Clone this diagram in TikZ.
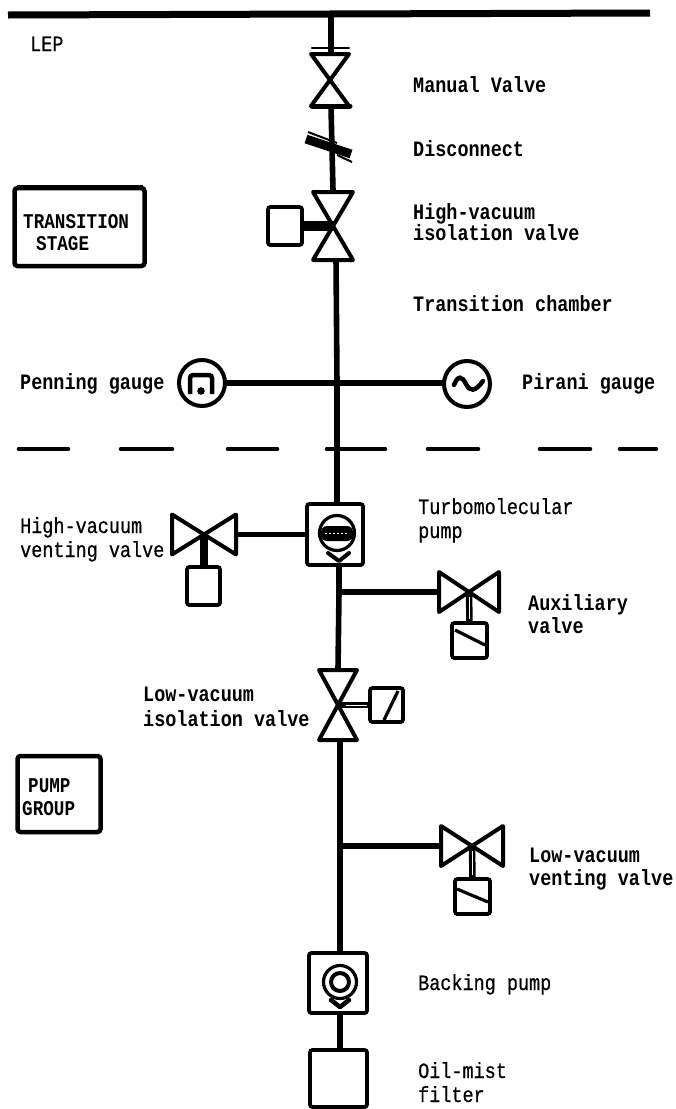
\documentclass[tikz,border=0pt]{standalone}
\usepackage{fontspec}
\newfontfamily\labreg[FakeStretch=0.84,FakeBold=0.5]{Liberation Mono}
\newfontfamily\labbold[FakeStretch=0.84]{Liberation Mono Bold}
\begin{document}
\begin{tikzpicture}[x=1pt,y=-1pt,
  pipe/.style={line width=5.6pt,black},
  valveline/.style={line width=4pt,line join=round,black,fill=white},
  stem/.style={line width=7pt,black},
  twinstem/.style={line width=6.5pt,black},
  boxnode/.style={draw,line width=3.8pt,rounded corners=2.5pt,inner sep=0pt,fill=white},
  gauge/.style={circle,draw,line width=4pt,inner sep=0pt,minimum size=46pt,fill=white},
  lab/.style={anchor=base west,inner sep=0pt,font=\labreg\fontsize{22}{24}\selectfont},
  labb/.style={lab,font=\labbold\fontsize{22}{24}\selectfont},
  lab2/.style={labb,font=\labbold\fontsize{21}{24}\selectfont},
  groupbox/.style={draw,line width=4.5pt,rounded corners=3pt,inner sep=0pt},
  dashseg/.style={line width=4.6pt,line cap=round,black}
]
\newcommand{\vvalve}[5]{% name,x,y,halfwidth,halfheight
  \coordinate (#1) at (#2,#3);
  \coordinate (#1-t) at (#2,#3-#5);
  \coordinate (#1-b) at (#2,#3+#5);
  \draw[valveline] (#1) -- (#2-#4,#3-#5) -- (#2+#4,#3-#5) -- cycle;
  \draw[valveline] (#1) -- (#2-#4,#3+#5) -- (#2+#4,#3+#5) -- cycle;}
\newcommand{\hvalve}[5]{% name,x,y,halfwidth,halfheight
  \coordinate (#1) at (#2,#3);
  \coordinate (#1-l) at (#2-#4,#3);
  \coordinate (#1-r) at (#2+#4,#3);
  \draw[valveline] (#1) -- (#2-#4,#3-#5) -- (#2-#4,#3+#5) -- cycle;
  \draw[valveline] (#1) -- (#2+#4,#3-#5) -- (#2+#4,#3+#5) -- cycle;}
\newcommand{\mybox}[6]{% name,x0,y0,x1,y1,options
  \node[boxnode,#6,minimum width=#4pt-#2pt,minimum height=#5pt-#3pt] (#1) at ({(#2+#4)/2},{(#3+#5)/2}) {};}
\useasboundingbox (0,0) rectangle (676,1109);
\fill[white] (0,0) rectangle (676,1109);

% LEP bar
\coordinate (barL) at (8,15);
\coordinate (barR) at (650,13);
\coordinate (barT) at (331,14);
\draw[line width=7pt] (barL) -- (barR);

% main pipes drawn first
\coordinate (mvT) at (331,52);
\coordinate (mvB) at (331,107);
\coordinate (hv-top) at (333,190);
\coordinate (hvBot) at (336,258);
\coordinate (j1) at (337,383);
\coordinate (j2) at (337,449);
\coordinate (tpTop) at (337,505);
\coordinate (tpBot) at (339,565);
\coordinate (j3) at (339,592);
\coordinate (lvTop) at (338,669);
\coordinate (lvBot) at (340,740);
\coordinate (j4) at (340,846);
\coordinate (bpTop) at (340,953);
\coordinate (bpBot) at (340,1013);
\coordinate (ofTop) at (340,1050);
\draw[pipe] (barT) -- (mvT);
\draw[pipe] (mvB) -- (hv-top);
\draw[pipe] (hvBot) -- (j1) -- (j2) -- (tpTop);
\draw[pipe] (tpBot) -- (j3) -- (lvTop);
\draw[pipe] (lvBot) -- (j4) -- (bpTop);
\draw[pipe] (bpBot) -- (ofTop);

% manual valve
\vvalve{mvv}{330}{80}{19}{26}
\draw[line width=2.4pt,line cap=round] (312,48) -- (349,48);
\draw[line width=5pt,line cap=round] (312,106) -- (350,106);

% disconnect
\coordinate (dA) at (306,139);
\coordinate (dB) at (351,154);
\draw[line width=9pt] (dA) -- (dB);
\draw[line width=2pt] (308,132) -- (337,143);
\draw[line width=2pt] (337,155) -- (352,162);

% high vacuum isolation valve
\mybox{hvbox}{268}{207}{302}{245}{}
\vvalve{hvv}{333}{226}{20}{34}
\draw[stem,line width=10pt] (hvbox.east) -- (hvv);

% gauges
\coordinate (penR) at (225,383);
\coordinate (pirL) at (444,383);
\draw[pipe] (penR) -- (j1);
\draw[pipe] (j1) -- (pirL);
\node[gauge] (penning) at (202,383) {};
\node[gauge] (pirani) at (467,384) {};
\draw[line width=4.5pt,rounded corners=3pt] (190,394) -- (190,375) -- (212,375) -- (212,394);
\fill (201,391) circle (3.8pt);
\draw[line width=4.5pt,line cap=round] (454,385) .. controls (458,375) and (462,376) .. (466,384) .. controls (470,392) and (475,392) .. (483,381);

% dashed partition
\foreach \n/\a/\b in {a/19/68,b/121/172,c/228/277,d/327/385,e/428/478,f/540/590,g/620/656}{
  \coordinate (ds\n L) at (\a,449);
  \coordinate (ds\n R) at (\b,449);
  \draw[dashseg] (ds\n L) -- (ds\n R);
}

% turbomolecular pump
\mybox{tp}{307}{504}{363}{565}{}
\node[circle,draw,line width=3.2pt,minimum size=35pt,inner sep=0pt] (tpc) at (337,533) {};
\fill[rounded corners=6pt] (321,526) rectangle (353,541);
\draw[white,line width=1pt,dash pattern=on 2pt off 2pt] (325,533) -- (349,533);
\draw[line width=4pt,line cap=round,line join=round] (328,553) -- (339,561) -- (349,553);

% high vacuum venting valve
\hvalve{hvvv}{204}{534.5}{32}{20}
\mybox{hvvb}{187}{567}{220}{605}{}
\draw[stem,line width=8pt] (hvvv) -- (204,567);
\draw[pipe] (hvvv-r) -- (tp.west);

% auxiliary valve
\draw[pipe] (j3) -- (439,592);
\hvalve{aux}{469}{592}{30}{20}
\mybox{auxb}{452}{623}{487}{658}{}
\draw[twinstem] (aux) -- (469.5,623);
\draw[white,line width=1pt] (469.5,597) -- (469.5,619);
\draw[line width=3.2pt] (455,630) -- (485,645);

% low vacuum isolation valve
\vvalve{lv}{338}{705}{19}{35}
\mybox{lvb}{370}{688}{403}{722}{}
\draw[twinstem] (lv) -- (lvb.west);
\draw[white,line width=1pt] (346,705) -- (367,705);
\draw[line width=3.2pt] (398,691) -- (384,720);

% low vacuum venting valve
\draw[pipe] (j4) -- (439,846);
\hvalve{lvv}{472}{846}{31}{20}
\mybox{lvvb}{455}{879}{490}{914}{}
\draw[twinstem] (lvv) -- (472.5,879);
\draw[white,line width=1pt] (472.5,851) -- (472.5,875);
\draw[line width=3.2pt] (457,889) -- (488,902);

% backing pump
\mybox{bp}{309}{953}{367}{1013}{}
\node[circle,draw,line width=3.2pt,minimum size=33pt,inner sep=0pt] (bpc) at (340,982) {};
\node[circle,draw,line width=4pt,minimum size=18pt,inner sep=0pt] (bpi) at (340,982) {};
\draw[line width=4.5pt,line cap=round,line join=round] (331,1000) -- (340,1007) -- (349,1000);

% oil-mist filter
\mybox{of}{310}{1050}{367}{1107}{}

% group boxes
\node[groupbox,minimum width=130pt,minimum height=78pt] (tsbox) at (79.5,227) {};
\draw[line width=2.4pt] (17,186) -- (143,186);
\node[groupbox,minimum width=83pt,minimum height=76pt] (pgbox) at (59,794) {};

% labels
\node[lab] (lLEP) at (30,51) {LEP};
\node[labb] (lMV) at (413,92) {Manual Valve};
\node[labb] (lDisc) at (413,156) {Disconnect};
\node[labb] (lHV1) at (413,219) {High-vacuum};
\node[labb] (lHV2) at (413,240) {isolation valve};
\node[labb] (lTC) at (413,311) {Transition chamber};
\node[labb] (lPen) at (20,389) {Penning gauge};
\node[labb] (lPir) at (522,389) {Pirani gauge};
\node[lab] (lHVV1) at (20,533) {High-vacuum};
\node[lab] (lHVV2) at (20,557) {venting valve};
\node[lab] (lTP1) at (418,514) {Turbomolecular};
\node[lab] (lTP2) at (418,538) {pump};
\node[labb] (lAux1) at (528,610) {Auxiliary};
\node[labb] (lAux2) at (528,633) {valve};
\node[labb] (lLV1) at (143,701) {Low-vacuum};
\node[labb] (lLV2) at (143,726) {isolation valve};
\node[labb] (lLVV1) at (529,862) {Low-vacuum};
\node[labb] (lLVV2) at (529,885) {venting valve};
\node[lab] (lBP) at (418,990) {Backing pump};
\node[lab] (lOM1) at (418,1078) {Oil-mist};
\node[lab] (lOM2) at (418,1102) {filter};
\node[lab2] (lTS1) at (23,228) {TRANSITION};
\node[lab2] (lTS2) at (36,250) {STAGE};
\node[lab2] (lPG1) at (28,792) {PUMP};
\node[lab2] (lPG2) at (22,815) {GROUP};
\end{tikzpicture}
\end{document}
